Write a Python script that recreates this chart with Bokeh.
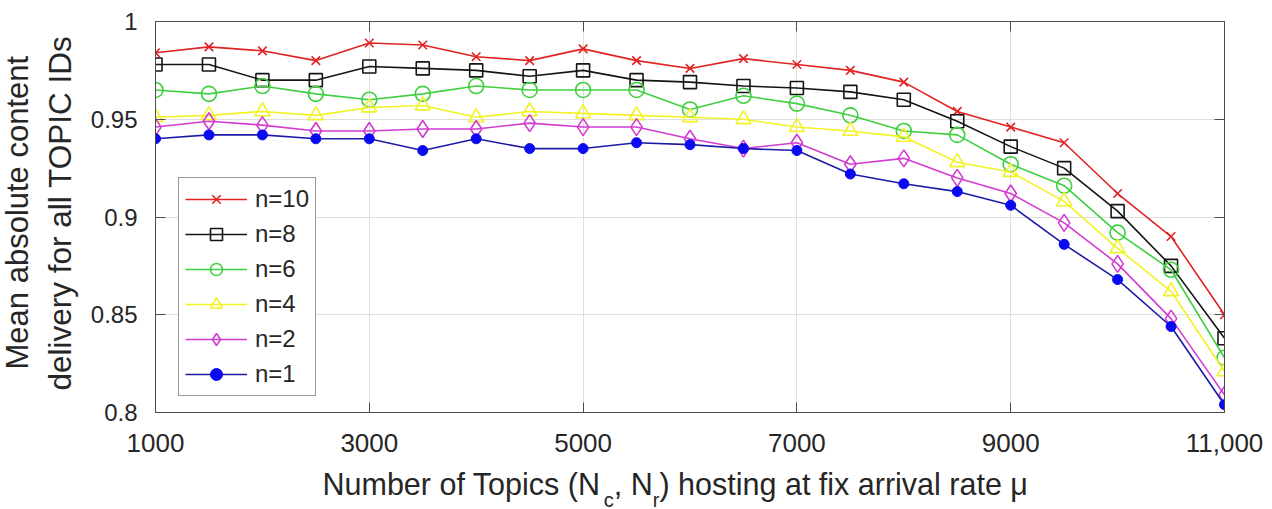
import math
from bokeh.plotting import figure
from bokeh.layouts import column
from bokeh.models import (LinearAxis, FixedTicker, Legend, LegendItem, Range1d, Title)
from bokeh.core.properties import value
from bokeh.embed import file_html
from bokeh.resources import INLINE

# ---------------- data ----------------
topics = [1000, 1500, 2000, 2500, 3000, 3500, 4000, 4500, 5000, 5500, 6000,
          6500, 7000, 7500, 8000, 8500, 9000, 9500, 10000, 10500, 11000]

n10 = [0.984, 0.987, 0.985, 0.980, 0.989, 0.988, 0.982, 0.980, 0.986, 0.980, 0.976,
       0.981, 0.978, 0.975, 0.969, 0.954, 0.946, 0.938, 0.912, 0.890, 0.850]
n8 = [0.978, 0.978, 0.970, 0.970, 0.977, 0.976, 0.975, 0.972, 0.975, 0.970, 0.969,
      0.967, 0.966, 0.964, 0.960, 0.949, 0.936, 0.925, 0.903, 0.875, 0.838]
n6 = [0.965, 0.963, 0.967, 0.963, 0.960, 0.963, 0.967, 0.965, 0.965, 0.965, 0.955,
      0.962, 0.958, 0.952, 0.944, 0.942, 0.927, 0.916, 0.892, 0.873, 0.828]
n4 = [0.951, 0.952, 0.954, 0.952, 0.956, 0.957, 0.951, 0.954, 0.953, 0.952, 0.951,
      0.950, 0.946, 0.944, 0.941, 0.928, 0.923, 0.908, 0.884, 0.862, 0.821]
n2 = [0.946, 0.949, 0.947, 0.944, 0.944, 0.945, 0.945, 0.948, 0.946, 0.946, 0.940,
      0.935, 0.938, 0.927, 0.930, 0.920, 0.912, 0.897, 0.876, 0.848, 0.809]
n1 = [0.940, 0.942, 0.942, 0.940, 0.940, 0.934, 0.940, 0.935, 0.935, 0.938, 0.937,
      0.935, 0.934, 0.922, 0.917, 0.913, 0.906, 0.886, 0.868, 0.844, 0.804]

series_labels = ["n=10", "n=8", "n=6", "n=4", "n=2", "n=1"]
series_values = [n10, n8, n6, n4, n2, n1]

x_ticks = [1000, 3000, 5000, 7000, 9000, 11000]
x_tick_labels = ["1000", "3000", "5000", "7000", "9000", "11,000"]
y_ticks = [0.8, 0.85, 0.9, 0.95, 1.0]
y_tick_labels = ["0.8", "0.85", "0.9", "0.95", "1"]

y_title_lines = ["Mean absolute content", "delivery for all TOPIC IDs"]
# x title split into normal text and subscripts
x_title_parts = ["Number of Topics (N", "c", ", N", "r", ") hosting at fix arrival rate \u03bc"]
x_title_is_sub = [False, True, False, True, False]

# ---------------- styles ----------------
styles = [
    dict(line="#e02424", marker="x", size=12, fill=None, mline="#e02424"),
    dict(line="#151515", marker="square", size=13, fill=None, mline="#151515"),
    dict(line="#3fcf3f", marker="circle", size=15, fill=None, mline="#3fcf3f"),
    dict(line="#f2f226", marker="triangle", size=15, fill=None, mline="#f2f226"),
    dict(line="#d23cd2", marker="diamond", size=17, fill=None, mline="#d23cd2"),
    dict(line="#1c1ca6", marker="circle", size=10, fill="#0a0af0", mline="#0a0af0"),
]

FONT = "Liberation Sans"
AX = "#4d4d4d"
TC = "#262626"
W = 1272
H_MAIN = 462
H_LAB = 509 - H_MAIN
FRAME_L = 155
FRAME_R = 1224

p = figure(width=W, height=H_MAIN, output_backend="svg", toolbar_location=None,
           x_range=Range1d(1000, 11000), y_range=Range1d(0.8, 1.0),
           min_border_left=FRAME_L, min_border_right=W - FRAME_R, min_border_top=21,
           min_border_bottom=50,
           background_fill_color="white", border_fill_color="white")
p.outline_line_color = AX
p.outline_line_width = 1

for ax in (p.xaxis[0], p.yaxis[0]):
    ax.axis_line_color = AX
    ax.major_tick_line_color = AX
    ax.major_tick_in = 10
    ax.major_tick_out = 0
    ax.minor_tick_line_color = None
    ax.major_label_text_font = FONT
    ax.major_label_text_color = TC

p.xaxis[0].ticker = FixedTicker(ticks=x_ticks)
p.xaxis[0].major_label_overrides = dict(zip(x_ticks, x_tick_labels))
p.xaxis[0].major_label_text_font_size = "26px"
p.xaxis[0].major_label_standoff = 21

p.yaxis[0].ticker = FixedTicker(ticks=y_ticks)
p.yaxis[0].major_label_overrides = dict(zip(y_ticks, y_tick_labels))
p.yaxis[0].major_label_text_font_size = "24px"
p.yaxis[0].major_label_standoff = 18

p.xgrid.ticker = FixedTicker(ticks=x_ticks)
p.ygrid.ticker = FixedTicker(ticks=y_ticks)
p.grid.grid_line_color = "#dedede"
p.grid.grid_line_width = 1

# ticks on top / right (MATLAB box)
top = LinearAxis(ticker=FixedTicker(ticks=x_ticks), major_label_overrides={t: "" for t in x_ticks},
                 major_tick_in=10, major_tick_out=0, axis_line_color=AX,
                 major_tick_line_color=AX, minor_tick_line_color=None,
                 major_label_text_font_size="1px", major_label_standoff=0)
right = LinearAxis(ticker=FixedTicker(ticks=y_ticks), major_label_overrides={t: "" for t in y_ticks},
                   major_tick_in=10, major_tick_out=0, axis_line_color=AX,
                   major_tick_line_color=AX, minor_tick_line_color=None,
                   major_label_text_font_size="1px", major_label_standoff=0)
p.add_layout(top, "above")
p.add_layout(right, "right")

items = []
for lab, vals, st in zip(series_labels, series_values, styles):
    r_line = p.line(topics, vals, line_color=st["line"], line_width=1.6)
    if st["fill"] is None:
        r_pts = p.scatter(topics, vals, marker=st["marker"], size=st["size"],
                          line_color=st["mline"], fill_color=None, line_width=1.6)
    else:
        r_pts = p.scatter(topics, vals, marker=st["marker"], size=st["size"],
                          line_color=st["mline"], fill_color=st["fill"], line_width=1.0)
    items.append(LegendItem(label=lab, renderers=[r_line, r_pts]))

legend = Legend(items=items, location=(23, 16), orientation="vertical",
                glyph_width=62, glyph_height=30, label_height=30, spacing=5, padding=6,
                label_standoff=8, label_text_font=FONT, label_text_font_size="24px",
                label_text_color=TC, border_line_color="#333333", border_line_width=1,
                background_fill_color="white", background_fill_alpha=1.0, margin=0)
p.add_layout(legend, "center")

# ---------------- y axis title (two lines) ----------------
p.add_layout(Title(text=y_title_lines[1], align="left", offset=22, standoff=20,
                   text_font=FONT, text_font_size="31.5px", text_font_style="normal",
                   text_color=TC), "left")
p.add_layout(Title(text=y_title_lines[0], align="left", offset=43, standoff=-10,
                   text_font=FONT, text_font_size="31px", text_font_style="normal",
                   text_color=TC), "left")

# ---------------- x axis title strip (with subscripts) ----------------
# the strip's frame is aligned with the main frame, so its x range is in canvas pixels
q = figure(width=W, height=H_LAB, output_backend="svg", toolbar_location=None,
           x_range=Range1d(FRAME_L, FRAME_R), y_range=Range1d(0, H_LAB),
           x_axis_type=None, y_axis_type=None,
           min_border_left=0, min_border_right=0, min_border_top=0, min_border_bottom=0,
           background_fill_color="white", border_fill_color="white")
q.outline_line_color = None
q.grid.visible = False

F = 30.5
FS = 20
em = [9.224, 0.500, 1.278, 0.333, 12.080]   # Arial advance widths (em)
x_start = 322
anchor_main = H_LAB - (483 - H_MAIN)
anchor_sub = H_LAB - (499 - H_MAIN)
xs, ys, main_txt, sxs, sys_, sub_txt = [], [], [], [], [], []
cx = x_start
for txt, is_sub, e in zip(x_title_parts, x_title_is_sub, em):
    if is_sub:
        sxs.append(cx); sys_.append(anchor_sub); sub_txt.append(txt)
        cx += e * FS
    else:
        xs.append(cx); ys.append(anchor_main); main_txt.append(txt)
        cx += e * F
q.text(xs, ys, text=main_txt, text_font=value(FONT), text_font_size=value(f"{F}px"),
       text_color=TC, text_align="left", text_baseline="alphabetic")
q.text(sxs, sys_, text=sub_txt, text_font=value(FONT), text_font_size=value(f"{FS}px"),
       text_color=TC, text_align="left", text_baseline="alphabetic")

layout = column(p, q, spacing=0)
open("out.html", "w").write(file_html(layout, INLINE))
